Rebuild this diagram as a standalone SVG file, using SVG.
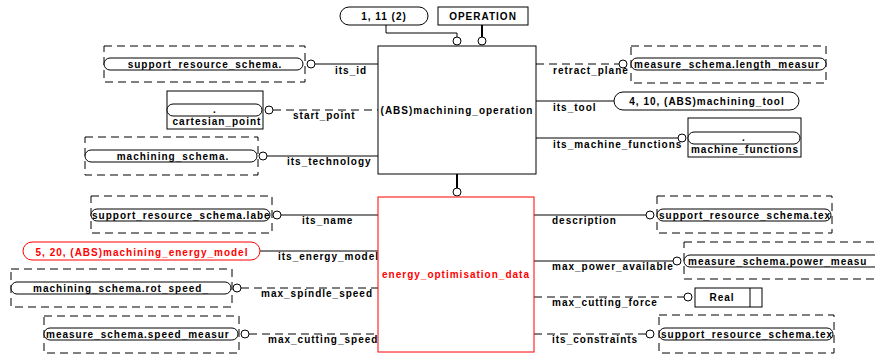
<svg xmlns="http://www.w3.org/2000/svg" width="875" height="356" viewBox="0 0 875 356">
<style>
.t{font-family:"Liberation Sans",Arial,sans-serif;font-weight:bold;font-size:10px;letter-spacing:1px;fill:#000}
.c{text-anchor:middle}
.red{fill:#ff0000}
.box{fill:#fff;stroke:#000;stroke-width:1}
.dash{fill:none;stroke:#000;stroke-width:1;stroke-dasharray:8 5}
.ov{fill:#fff;stroke:#000;stroke-width:1}
.ln{stroke:#000;stroke-width:1;fill:none}
.dl{stroke:#000;stroke-width:1;fill:none;stroke-dasharray:8 5}
.thick{stroke:#000;stroke-width:2;fill:none}
.cir{fill:#fff;stroke:#000;stroke-width:1}
</style>
<defs>
<clipPath id="cp1"><rect x="631" y="58" width="195" height="12"/></clipPath>
<clipPath id="cp2"><rect x="91" y="209" width="179" height="12"/></clipPath>
<clipPath id="cp3"><rect x="44" y="328" width="194" height="12"/></clipPath>
<clipPath id="cp4"><rect x="657" y="209" width="174" height="12"/></clipPath>
<clipPath id="cp5"><rect x="684" y="255" width="200" height="12"/></clipPath>
<clipPath id="cp6"><rect x="659" y="328" width="174" height="12"/></clipPath>
</defs>
<rect width="875" height="356" fill="#fff"/>

<g id="connectors">
  <polyline class="ln" points="386,25 386,33 457,33 457,37"/>
  <circle class="cir" cx="457" cy="41" r="4"/>
  <line class="thick" x1="482" y1="25" x2="482" y2="37"/>
  <circle class="cir" cx="482" cy="41" r="4"/>
  <!-- left top -->
  <line class="ln" x1="315" y1="64" x2="378" y2="64"/>
  <circle class="cir" cx="311" cy="64" r="4"/>
  <text class="t" x="335" y="74">its_id</text>
  <line class="dl" x1="273" y1="110" x2="378" y2="110"/>
  <circle class="cir" cx="269" cy="110" r="4"/>
  <text class="t" x="293" y="119">start_point</text>
  <line class="ln" x1="267" y1="156" x2="378" y2="156"/>
  <circle class="cir" cx="263" cy="156" r="4"/>
  <text class="t" x="287" y="165">its_technology</text>
  <!-- right top -->
  <line class="dl" x1="536" y1="64" x2="619" y2="64"/>
  <circle class="cir" cx="623" cy="64" r="4"/>
  <text class="t" x="553" y="74">retract_plane</text>
  <line class="ln" x1="536" y1="101" x2="614" y2="101"/>
  <text class="t" x="553" y="111">its_tool</text>
  <line class="ln" x1="536" y1="138" x2="678" y2="138"/>
  <circle class="cir" cx="682" cy="138" r="4"/>
  <text class="t" x="553" y="148">its_machine_functions</text>
  <!-- supertype link -->
  <line class="thick" x1="457" y1="174" x2="457" y2="188"/>
  <circle class="cir" cx="457" cy="192" r="4"/>
  <!-- left bottom -->
  <line class="ln" x1="281" y1="215" x2="378" y2="215"/>
  <circle class="cir" cx="277" cy="215" r="4"/>
  <text class="t" x="302" y="224">its_name</text>
  <line class="ln" x1="260" y1="251" x2="378" y2="251"/>
  <text class="t" x="278" y="260">its_energy_model</text>
  <line class="dl" x1="241" y1="288" x2="378" y2="288"/>
  <circle class="cir" cx="237" cy="288" r="4"/>
  <text class="t" x="261" y="297">max_spindle_speed</text>
  <line class="dl" x1="249" y1="334" x2="378" y2="334"/>
  <circle class="cir" cx="245" cy="334" r="4"/>
  <text class="t" x="268" y="343">max_cutting_speed</text>
  <!-- right bottom -->
  <line class="ln" x1="534" y1="215" x2="646" y2="215"/>
  <circle class="cir" cx="650" cy="215" r="4"/>
  <text class="t" x="552" y="224">description</text>
  <line class="ln" x1="534" y1="261" x2="673" y2="261"/>
  <circle class="cir" cx="677" cy="261" r="4"/>
  <text class="t" x="552" y="270">max_power_available</text>
  <line class="dl" x1="534" y1="297" x2="684" y2="297"/>
  <circle class="cir" cx="688" cy="297" r="4"/>
  <text class="t" x="552" y="306">max_cutting_force</text>
  <line class="dl" x1="534" y1="334" x2="646" y2="334"/>
  <circle class="cir" cx="650" cy="334" r="4"/>
  <text class="t" x="552" y="343">its_constraints</text>
</g>

<g id="node-ref-1-11">
  <rect class="ov" x="340" y="7" width="88" height="18" rx="9"/>
  <text class="t c" x="384" y="20">1, 11 (2)</text>
</g>
<g id="node-operation">
  <rect class="box" x="438" y="7" width="90" height="18"/>
  <text class="t c" x="483" y="20">OPERATION</text>
</g>
<g id="node-machining-operation">
  <rect class="box" x="378" y="46" width="158" height="128"/>
  <text class="t c" x="457" y="114">(ABS)machining_operation</text>
</g>
<g id="node-support-resource-schema">
  <rect class="dash" x="104" y="46" width="201" height="36"/>
  <rect class="ov" x="104" y="58" width="199" height="12" rx="6"/>
  <text class="t c" x="205" y="67.5">support_resource_schema.</text>
</g>
<g id="node-cartesian-point">
  <rect class="box" x="167" y="91" width="96" height="38"/>
  <rect class="ov" x="167" y="104" width="95" height="12" rx="6"/>
  <text class="t c" x="215" y="113">.</text>
  <text class="t c" x="217" y="125">cartesian_point</text>
</g>
<g id="node-machining-schema">
  <rect class="dash" x="85" y="137" width="173" height="38"/>
  <rect class="ov" x="85" y="150" width="172" height="12" rx="6"/>
  <text class="t c" x="173" y="159.5">machining_schema.</text>
</g>
<g id="node-length-measure">
  <rect class="dash" x="631" y="46" width="195" height="37"/>
  <rect class="ov" x="631" y="58" width="195" height="12" rx="6"/>
  <text class="t" x="634" y="67.5" clip-path="url(#cp1)">measure_schema.length_measur</text>
</g>
<g id="node-machining-tool">
  <rect class="ov" x="614" y="92" width="185" height="18" rx="9"/>
  <text class="t c" x="707" y="105">4, 10, (ABS)machining_tool</text>
</g>
<g id="node-machine-functions">
  <rect class="box" x="688" y="118" width="113" height="39"/>
  <rect class="ov" x="688" y="132" width="112" height="12" rx="6"/>
  <text class="t c" x="744" y="141">.</text>
  <text class="t c" x="745" y="153">machine_functions</text>
</g>
<g id="node-energy-optimisation-data">
  <rect x="378" y="197" width="156" height="155" fill="#fff" stroke="#ff0000" stroke-width="1"/>
  <text class="t c red" x="456" y="278">energy_optimisation_data</text>
</g>
<g id="node-label">
  <rect class="dash" x="91" y="196" width="181" height="37"/>
  <rect class="ov" x="91" y="209" width="179" height="12" rx="6"/>
  <text class="t" x="92" y="218.5" clip-path="url(#cp2)">support_resource_schema.labe</text>
</g>
<g id="node-energy-model">
  <rect x="23" y="242" width="237" height="18" rx="9" fill="#fff" stroke="#ff0000" stroke-width="1"/>
  <text class="t c red" x="142" y="255.5">5, 20, (ABS)machining_energy_model</text>
</g>
<g id="node-rot-speed">
  <rect class="dash" x="11" y="269" width="221" height="38"/>
  <rect class="ov" x="11" y="282" width="220" height="12" rx="6"/>
  <text class="t c" x="121" y="291.5">machining_schema.rot_speed_</text>
</g>
<g id="node-speed-measure">
  <rect class="dash" x="44" y="316" width="195" height="37"/>
  <rect class="ov" x="44" y="328" width="194" height="12" rx="6"/>
  <text class="t" x="46" y="337.5" clip-path="url(#cp3)">measure_schema.speed_measur</text>
</g>
<g id="node-text-description">
  <rect class="dash" x="657" y="196" width="175" height="37"/>
  <rect class="ov" x="657" y="209" width="174" height="12" rx="6"/>
  <text class="t" x="659" y="218.5" clip-path="url(#cp4)">support_resource_schema.tex</text>
</g>
<g id="node-power-measure">
  <rect class="dash" x="684" y="242" width="200" height="37"/>
  <rect class="ov" x="684" y="255" width="200" height="12" rx="6"/>
  <text class="t" x="688" y="264.5" clip-path="url(#cp5)">measure_schema.power_measu</text>
</g>
<g id="node-real">
  <rect class="box" x="695" y="288" width="67" height="19"/>
  <line class="ln" x1="750" y1="288" x2="750" y2="307"/>
  <text class="t c" x="722" y="301">Real</text>
</g>
<g id="node-text-constraints">
  <rect class="dash" x="659" y="315" width="175" height="38"/>
  <rect class="ov" x="659" y="328" width="174" height="12" rx="6"/>
  <text class="t" x="661" y="337.5" clip-path="url(#cp6)">support_resource_schema.tex</text>
</g>
</svg>
